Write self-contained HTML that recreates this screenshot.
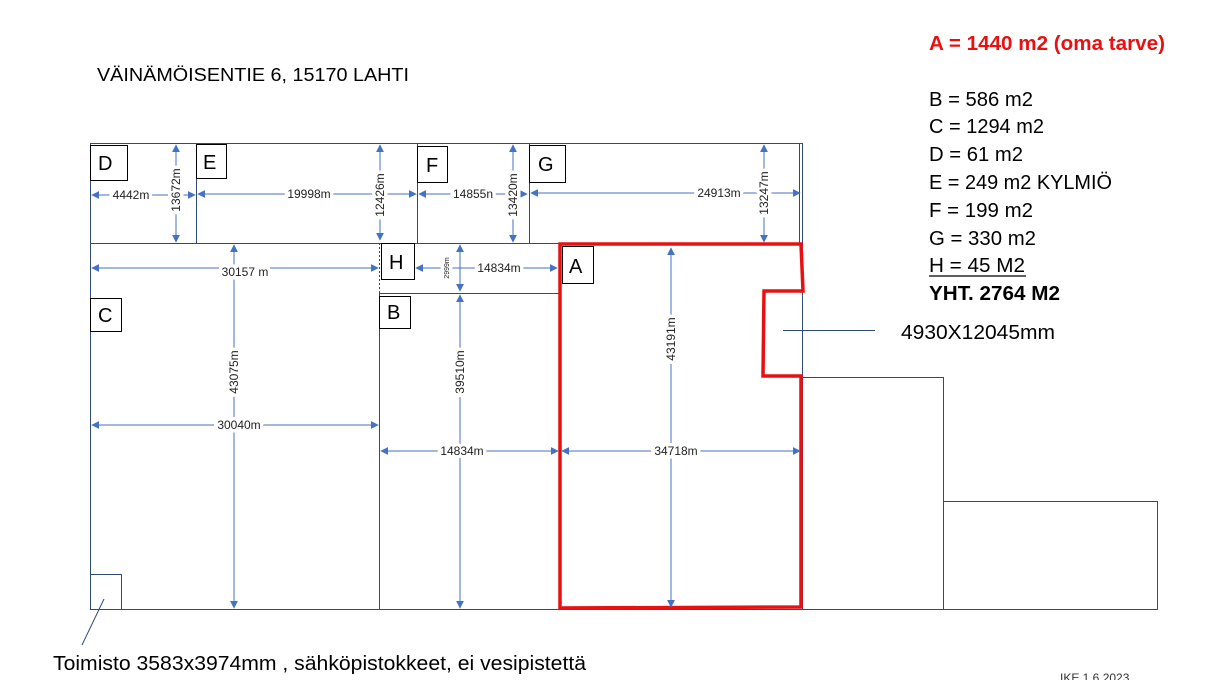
<!DOCTYPE html>
<html><head><meta charset="utf-8"><style>
html,body{margin:0;padding:0;background:#fff;}
svg{display:block;}
text{font-family:"Liberation Sans",sans-serif;}
.d{font-size:12px;fill:#222;stroke:#fff;stroke-width:7px;paint-order:stroke;}
.l{font-size:20px;fill:#000;}
.k{font-size:20px;fill:#000;}
</style></head><body>
<svg width="1210" height="680" viewBox="0 0 1210 680" xmlns="http://www.w3.org/2000/svg">
<defs>
<marker id="a" viewBox="0 0 10 10" refX="9" refY="5" markerWidth="8" markerHeight="8" orient="auto-start-reverse" markerUnits="userSpaceOnUse"><path d="M0,0L10,5L0,10z" fill="#4472C4"/></marker>
</defs>
<rect width="1210" height="680" fill="#fff"/>
<g fill="none" stroke="#2F4B7C" stroke-width="1">
<rect x="90.5" y="143.5" width="712" height="100"/>
<line x1="799.5" y1="143" x2="799.5" y2="243"/>
<line x1="196.5" y1="143" x2="196.5" y2="243"/>
<line x1="417.5" y1="143" x2="417.5" y2="243"/>
<line x1="529.5" y1="143" x2="529.5" y2="243"/>
<line x1="90.5" y1="243" x2="90.5" y2="609"/>
<line x1="90" y1="609.5" x2="1157" y2="609.5"/>
<line x1="379.5" y1="293" x2="379.5" y2="609"/>
<line x1="379" y1="293.5" x2="560" y2="293.5"/>
<line x1="379.5" y1="243" x2="379.5" y2="293" stroke-dasharray="2,2"/>
<line x1="802.5" y1="243" x2="802.5" y2="609"/>
<rect x="802.5" y="377.5" width="141" height="232"/>
<rect x="943.5" y="501.5" width="214" height="108"/>
<rect x="90.5" y="574.5" width="31" height="35"/>
<line x1="104" y1="599" x2="82" y2="645"/>
<line x1="783" y1="330.5" x2="875" y2="330.5"/>
</g>
<polygon points="560,244 801,244 803,291 764,291 763,376 801,376 801,607 560,608" fill="none" stroke="#E81010" stroke-width="3.5"/>
<g fill="#fff" stroke="#000" stroke-width="1">
<rect x="90.5" y="145.5" width="37" height="35"/>
<rect x="196.5" y="144.5" width="30" height="34"/>
<rect x="417.5" y="146.5" width="30" height="36"/>
<rect x="529.5" y="145.5" width="36" height="37"/>
<rect x="381.5" y="243.5" width="33" height="36"/>
<rect x="562.5" y="246.5" width="31" height="37"/>
<rect x="90.5" y="298.5" width="31" height="33"/>
<rect x="379.5" y="296.5" width="31" height="32"/>
</g>
<g class="l">
<text x="98" y="170">D</text><text x="203" y="169">E</text><text x="426" y="172">F</text>
<text x="538" y="171">G</text><text x="389" y="269">H</text><text x="569" y="273">A</text>
<text x="98" y="322">C</text><text x="387" y="319">B</text>
</g>
<g stroke="#4472C4" stroke-width="1" marker-start="url(#a)" marker-end="url(#a)">
<line x1="92" y1="195" x2="195" y2="195"/>
<line x1="176" y1="145" x2="176" y2="242"/>
<line x1="198" y1="194" x2="416" y2="194"/>
<line x1="380" y1="145" x2="380" y2="240"/>
<line x1="419" y1="194" x2="527" y2="194"/>
<line x1="513" y1="145" x2="513" y2="242"/>
<line x1="531" y1="193" x2="800" y2="193"/>
<line x1="764" y1="145" x2="764" y2="242"/>
<line x1="92" y1="268" x2="378" y2="268"/>
<line x1="234" y1="245" x2="234" y2="608"/>
<line x1="92" y1="425" x2="378" y2="425"/>
<line x1="460" y1="245" x2="460" y2="291"/>
<line x1="416" y1="268" x2="557" y2="268"/>
<line x1="460" y1="295" x2="460" y2="608"/>
<line x1="381" y1="451" x2="558" y2="451"/>
<line x1="562" y1="451" x2="800" y2="451"/>
<line x1="671" y1="248" x2="671" y2="607"/>
</g>
<g class="d" text-anchor="middle">
<text x="131" y="199">4442m</text>
<text x="309" y="198">19998m</text>
<text x="473" y="198">14855n</text>
<text x="719" y="197">24913m</text>
<text x="245" y="276">30157 m</text>
<text x="239" y="429">30040m</text>
<text x="499" y="272">14834m</text>
<text x="462" y="455">14834m</text>
<text x="676" y="455">34718m</text>
<text transform="translate(180,190) rotate(-90)">13672m</text>
<text transform="translate(384,195) rotate(-90)">12426m</text>
<text transform="translate(517,195) rotate(-90)">13420m</text>
<text transform="translate(768,193) rotate(-90)">13247m</text>
<text transform="translate(238,372) rotate(-90)">43075m</text>
<text transform="translate(464,372) rotate(-90)">39510m</text>
<text transform="translate(675,339) rotate(-90)">43191m</text>
<text transform="translate(449,268) rotate(-90)" style="font-size:7px">2999m</text>
</g>
<text x="97" y="81" style="font-size:18px" textLength="312" lengthAdjust="spacingAndGlyphs">VÄINÄMÖISENTIE 6, 15170 LAHTI</text>
<text x="929" y="50" class="k" style="fill:#E81010;font-weight:bold" textLength="236" lengthAdjust="spacingAndGlyphs">A = 1440 m2 (oma tarve)</text>
<text x="929" y="106" class="k" textLength="104" lengthAdjust="spacingAndGlyphs">B = 586 m2</text>
<text x="929" y="133" class="k" textLength="115" lengthAdjust="spacingAndGlyphs">C = 1294 m2</text>
<text x="929" y="161" class="k" textLength="94" lengthAdjust="spacingAndGlyphs">D = 61 m2</text>
<text x="929" y="189" class="k" textLength="183" lengthAdjust="spacingAndGlyphs">E = 249 m2 KYLMIÖ</text>
<text x="929" y="217" class="k" textLength="104" lengthAdjust="spacingAndGlyphs">F = 199 m2</text>
<text x="929" y="245" class="k" textLength="107" lengthAdjust="spacingAndGlyphs">G = 330 m2</text>
<text x="929" y="272" class="k" textLength="96" lengthAdjust="spacingAndGlyphs">H = 45 M2</text>
<line x1="929" y1="276" x2="1026" y2="276" stroke="#000" stroke-width="1.3"/>
<text x="929" y="300" class="k" style="font-weight:bold" textLength="131" lengthAdjust="spacingAndGlyphs">YHT. 2764 M2</text>
<text x="901" y="339" class="l" textLength="154" lengthAdjust="spacingAndGlyphs">4930X12045mm</text>
<text x="53" y="670" class="l" textLength="533" lengthAdjust="spacingAndGlyphs">Toimisto 3583x3974mm , sähköpistokkeet, ei vesipistettä</text>
<text x="1060" y="682" style="font-size:12px;fill:#333">IKE  1.6.2023</text>
</svg>
</body></html>
